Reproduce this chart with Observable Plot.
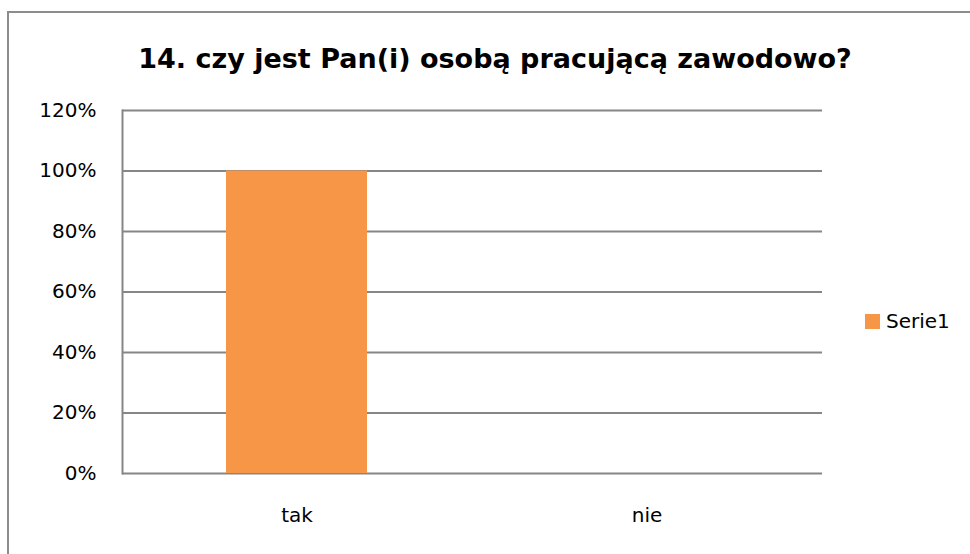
<!DOCTYPE html>
<html>
<head>
<meta charset="utf-8">
<script src="https://cdn.jsdelivr.net/npm/d3@7"></script>
<script src="https://cdn.jsdelivr.net/npm/@observablehq/plot@0.6"></script>
<style>
  html, body { margin: 0; padding: 0; background: #fff; overflow: hidden; }
  #wrap { position: relative; width: 970px; height: 554px; font-family: "DejaVu Sans", sans-serif; }
  #frame { position: absolute; left: 7px; top: 11px; width: 1000px; height: 600px; border-left: 2px solid #8c8c8c; border-top: 2px solid #8c8c8c; }
  #title { position: absolute; left: 0; width: 990px; top: 43px; text-align: center; font-weight: bold; font-size: 27px; color: #000; }
  #legend { position: absolute; left: 865px; top: 309px; font-size: 20px; display: flex; align-items: center; }
  #legend .sw { width: 15px; height: 15px; background: #F79646; margin-right: 6px; }
  #chart { position: absolute; left: 0; top: 0; }
</style>
</head>
<body>
<div id="wrap">
  <div id="frame"></div>
  <div id="chart"></div>
  <div id="title">14. czy jest Pan(i) osobą pracującą zawodowo?</div>
  <div id="legend"><div class="sw"></div><span>Serie1</span></div>
</div>
<script>
const categories = ["tak", "nie"];
const values = [1.0, 0.0];
const yTicks = [0, 0.2, 0.4, 0.6, 0.8, 1.0, 1.2];
const seriesName = "Serie1";

const data = categories.map((c, i) => ({category: c, value: values[i]}));

const chart = Plot.plot({
  width: 970,
  height: 554,
  marginTop: 110,
  marginBottom: 81,
  marginLeft: 122,
  marginRight: 148,
  style: {fontFamily: "DejaVu Sans, sans-serif", fontSize: "20px", color: "#000", background: "transparent"},
  x: {domain: categories, paddingInner: 0.597, paddingOuter: 0.2985, label: null},
  y: {domain: [0, 1.2], label: null},
  marks: [
    Plot.ruleY(yTicks, {stroke: "#868686", strokeWidth: 2, strokeOpacity: 1}),
    Plot.barY(data, {x: "category", y: "value", fill: "#F79646"}),
    Plot.frame({anchor: "left", stroke: "#868686", strokeWidth: 2, strokeOpacity: 1}),
    Plot.axisY(yTicks, {tickFormat: d => Math.round(d * 100) + "%", tickSize: 0, tickPadding: 26, fontSize: 20}),
    Plot.axisX({tickSize: 0, tickPadding: 34, fontSize: 20})
  ]
});
document.getElementById("chart").appendChild(chart);
</script>
</body>
</html>
